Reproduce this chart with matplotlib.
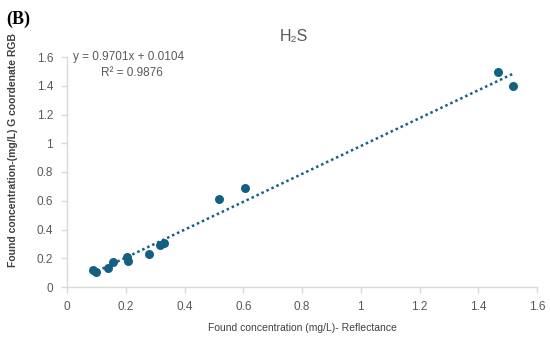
import matplotlib.pyplot as plt

# found concentration (mg/L): reflectance vs G coordinate RGB
x_refl = [0.087, 0.099, 0.141, 0.158, 0.203, 0.207, 0.280, 0.317, 0.329, 0.518, 0.606, 1.468, 1.517]
y_rgb = [0.118, 0.102, 0.134, 0.174, 0.207, 0.183, 0.230, 0.292, 0.306, 0.612, 0.689, 1.494, 1.400]

slope = 0.9701
intercept = 0.0104
r2 = 0.9876

ticks = [0, 0.2, 0.4, 0.6, 0.8, 1, 1.2, 1.4, 1.6]
tick_labels = ["0", "0.2", "0.4", "0.6", "0.8", "1", "1.2", "1.4", "1.6"]

plt.rcParams['font.family'] = ['Liberation Sans', 'DejaVu Sans']

W, H = 550, 339
fig = plt.figure(figsize=(W / 100, H / 100), dpi=100)
ax = fig.add_axes([67 / W, 1 - 287 / H, 470 / W, 230 / H])

blue = "#156082"
grey = "#595959"
ax.scatter(x_refl, y_rgb, s=42, color=blue, zorder=3, linewidths=0)

xs = [min(x_refl), max(x_refl)]
ax.plot(xs, [slope * v + intercept for v in xs], color=blue, linestyle=(0, (1, 1.2)),
        linewidth=1.8, zorder=2)

ax.set_xlim(0, 1.6)
ax.set_ylim(0, 1.6)
ax.set_xticks(ticks)
ax.set_xticklabels(tick_labels)
ax.set_yticks(ticks)
ax.set_yticklabels(tick_labels)
for s in ["top", "right"]:
    ax.spines[s].set_visible(False)
for s in ["left", "bottom"]:
    ax.spines[s].set_color("#D9D9D9")
    ax.spines[s].set_linewidth(1.0)
ax.tick_params(axis="both", colors="#D9D9D9", labelcolor=grey, labelsize=8.5, length=4, width=1)
ax.tick_params(axis="x", pad=6)
ax.tick_params(axis="y", pad=6)

ax.text(0.02, 1.6, "y = 0.9701x + 0.0104", color=grey, fontsize=8.5, va="center", ha="left")
ax.text(0.22, 1.49, "R² = 0.9876", color=grey, fontsize=8.5, va="center", ha="center")

fig.text(294 / W, 1 - 37 / H, "H₂S", color=grey, fontsize=11.5, ha="center", va="center")
fig.text(302 / W, 1 - 328 / H, "Found concentration (mg/L)- Reflectance", color="#404040",
         fontsize=7.5, ha="center", va="center")
fig.text(13 / W, 1 - 150 / H, "Found concentration-(mg/L) G coordenate RGB", color="#404040",
         fontsize=7.5, fontweight="bold", rotation=90, ha="center", va="center")
fig.text(6 / W, 1 - 19 / H, "(B)", family="Liberation Serif", fontweight="bold",
         fontsize=13, ha="left", va="center", color="black")

fig.savefig("out.png", dpi=100)
